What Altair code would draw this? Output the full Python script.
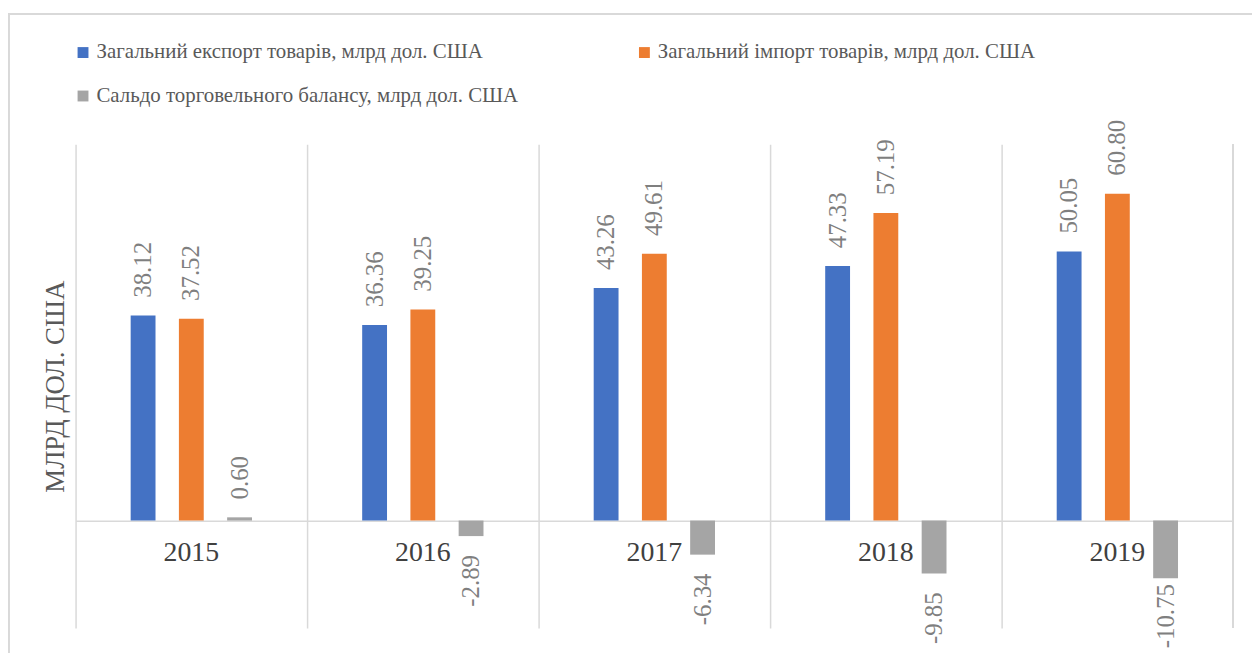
import altair as alt
import pandas as pd

years = ["2015", "2016", "2017", "2018", "2019"]
series = [
    "Загальний експорт товарів, млрд дол. США",
    "Загальний імпорт товарів, млрд дол. США",
    "Сальдо торговельного балансу, млрд дол. США",
]
export_vals = [38.12, 36.36, 43.26, 47.33, 50.05]
import_vals = [37.52, 39.25, 49.61, 57.19, 60.80]
saldo_vals = [0.60, -2.89, -6.34, -9.85, -10.75]
colors = ["#4472C4", "#ED7D31", "#A5A5A5"]

rows = []
for i, y in enumerate(years):
    for s, vals in zip(series, [export_vals, import_vals, saldo_vals]):
        rows.append({"year": y, "series": s, "value": vals[i], "label": f"{vals[i]:.2f}"})
df = pd.DataFrame(rows)
cat_df = pd.DataFrame({"year": years})

W, H = 1165, 487
FONT = "Liberation Serif"
PX_PER_UNIT = H / 90.0

x_enc = alt.X("year:N", sort=years,
              scale=alt.Scale(paddingInner=0, paddingOuter=0),
              axis=alt.Axis(title=None, labels=False, ticks=False, domain=False,
                            grid=True, bandPosition=0, gridColor="#d9d9d9", gridWidth=1.5))
xo_enc = alt.XOffset("series:N", sort=series,
                     scale=alt.Scale(paddingInner=0.2, paddingOuter=1))
y_scale = alt.Scale(domain=[-20, 70], nice=False, zero=False)

base = alt.Chart(df)

bars = base.mark_bar(width=25).encode(
    x=x_enc,
    xOffset=xo_enc,
    y=alt.Y("value:Q", scale=y_scale,
            axis=alt.Axis(title="МЛРД ДОЛ. США", labels=False, ticks=False, domain=False,
                          grid=True, values=[0], gridColor="#d9d9d9", gridWidth=1.5,
                          titleFont=FONT, titleFontSize=27, titleFontWeight="normal",
                          titleColor="#595959", titlePadding=6)),
    color=alt.Color("series:N", sort=series,
                    scale=alt.Scale(domain=series, range=colors),
                    legend=alt.Legend(title=None, orient="none", legendX=-3, legendY=-103,
                                      direction="horizontal", columns=2, columnPadding=116,
                                      rowPadding=22, symbolType="square", symbolSize=120,
                                      symbolStrokeWidth=0, labelFont=FONT, labelFontSize=21,
                                      labelColor="#595959", labelOffset=3, padding=0,
                                      labelLimit=600)),
)

pos_labels = base.transform_filter("datum.value >= 0").mark_text(
    angle=270, align="left", baseline="middle", dx=18, font=FONT, fontSize=25, color="#7F7F7F"
).encode(
    x=alt.X("year:N", sort=years), xOffset=alt.XOffset("series:N", sort=series),
    y=alt.Y("value:Q", scale=y_scale), text="label:N",
)

# negative labels sit below the bar, pushed up (as Excel does) when they would leave the chart
neg_labels = base.transform_filter("datum.value < 0").transform_calculate(
    label_y=f"max(datum.value - 19/{PX_PER_UNIT}, -(129 - 13*(length(datum.label)-1))/{PX_PER_UNIT})"
).mark_text(
    angle=270, align="right", baseline="middle", font=FONT, fontSize=25, color="#7F7F7F"
).encode(
    x=alt.X("year:N", sort=years), xOffset=alt.XOffset("series:N", sort=series),
    y=alt.Y("label_y:Q", scale=y_scale), text="label:N",
)

cat_labels = alt.Chart(cat_df).mark_text(
    baseline="middle", align="center", dy=33, font=FONT, fontSize=28, color="#404040"
).encode(
    x=alt.X("year:N", sort=years), y=alt.datum(0), text="year:N",
)

right_line = alt.Chart(cat_df).mark_rule(color="#d9d9d9", strokeWidth=1.5).encode(
    x=alt.value(W), y=alt.value(0), y2=alt.value(H)
)

frame = alt.Chart(cat_df).mark_rect(fillOpacity=0, stroke="#d9d9d9", strokeWidth=1.5).encode(
    x=alt.value(-67), x2=alt.value(W + 200), y=alt.value(-131), y2=alt.value(H + 200)
)

chart = alt.layer(frame, right_line, bars, pos_labels, neg_labels, cat_labels).properties(
    width=W, height=H,
    autosize=alt.AutoSizeParams(type="none"),
    padding={"left": 68, "top": 135, "right": 19, "bottom": 23},
    background="white",
).configure(font=FONT).configure_view(stroke=None).configure_legend(labelFont=FONT)

chart.save("out.html", embed_options={"renderer": "svg", "actions": False})
